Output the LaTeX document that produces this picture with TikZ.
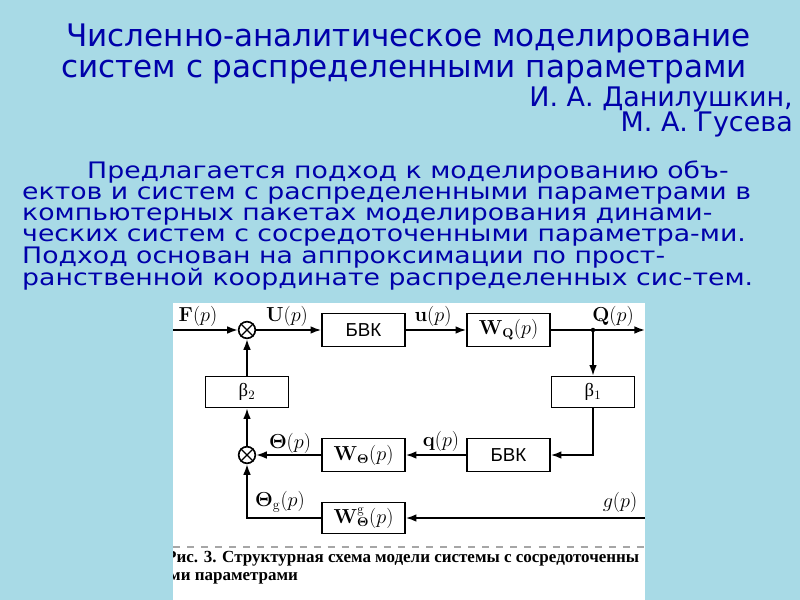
\documentclass[tikz,border=0pt]{standalone}
\usepackage[no-math]{fontspec}
\newfontfamily\slidefont{DejaVu Sans}
\newfontfamily\boxfont{Liberation Sans}
\newfontfamily\capfont{Liberation Serif}
\usetikzlibrary{arrows.meta,positioning}
\definecolor{drops}{RGB}{168,218,230}
\definecolor{ink}{RGB}{0,0,170}
\newcommand{\zeile}[1]{\scalebox{1}[0.85]{#1}}

\begin{document}
\begin{tikzpicture}[x=0.3mm,y=-0.3mm,
    titel/.style={text=ink,font=\slidefont\fontsize{26.5}{30}\selectfont,inner sep=0pt},
    autor/.style={text=ink,font=\slidefont\fontsize{23}{27}\selectfont,inner sep=0pt,anchor=base east},
    absatz/.style={anchor=base west,text=ink,font=\slidefont\fontsize{22.8}{26}\selectfont,inner sep=0pt},
    blok/.style={draw,line width=1.4pt,fill=white,minimum width=24.9mm,minimum height=10mm,inner sep=1pt,font=\fontsize{16}{18}\selectfont},
    summ/.style={draw,line width=1.4pt,circle,minimum size=5mm,inner sep=0pt},
    lbl/.style={font=\fontsize{16.5}{18}\selectfont,inner sep=1pt},
    pfeil/.style={line width=1.4pt,-{Latex[length=3.2mm,width=2.3mm]}},
    unterschrift/.style={anchor=base west,font=\capfont\bfseries\fontsize{14.5}{16}\selectfont,inner sep=0pt}]

% background
\fill[drops] (0,0) rectangle (800,600);
\useasboundingbox (0,0) rectangle (800,600);

% title and authors
\node[titel,anchor=base west] (t1) at (66,47) {Численно-аналитическое моделирование};
\node[titel,anchor=base west] (t2) at (61,78) {систем с распределенными параметрами};
\node[autor] (a1) at (793,107) {И. А. Данилушкин,};
\node[autor] (a2) at (793,132) {М. А. Гусева};

% text
\node[absatz] (p1) at (87,179) {\zeile{Предлагается подход к моделированию объ-}};
\node[absatz] (p2) at (22,200) {\zeile{ектов и систем с распределенными параметрами в}};
\node[absatz] (p3) at (22,221) {\zeile{компьютерных пакетах моделирования динами-}};
\node[absatz] (p4) at (22,242) {\zeile{ческих систем с сосредоточенными параметра-ми.}};
\node[absatz] (p5) at (22,264) {\zeile{Подход основан на аппроксимации по прост-}};
\node[absatz] (p6) at (22,285) {\zeile{ранственной координате распределенных сис-тем.}};

% figure
\fill[white] (173,303) rectangle (645,600);

\node[summ] (s1) at (247,330) {};
\draw[line width=1.2pt] (s1.north west) -- (s1.south east) (s1.north east) -- (s1.south west);
\node[blok] (bvk1) at (363.5,330) {\boxfont БВК};
\node[blok] (wq) at (508.5,330) {$\mathbf{W}_{\mathbf{Q}}(p)$};
\coordinate (vz) at (593,330);
\fill (vz) circle (1.9pt);
\coordinate (fin) at (173,330);
\coordinate (qout) at (645,330);
\node[blok,minimum height=9.3mm] (b1) at (593,392) {{\capfont β}$_1$};
\node[blok,minimum height=9.3mm] (b2) at (247,392) {{\capfont β}$_2$};
\node[summ] (s2) at (247,455) {};
\draw[line width=1.2pt] (s2.north west) -- (s2.south east) (s2.north east) -- (s2.south west);
\node[blok] (wt) at (363.5,455) {$\mathbf{W}_{\mathbf{\Theta}}(p)$};
\node[blok] (bvk2) at (508.5,455) {\boxfont БВК};
\node[blok,minimum height=9.3mm] (wg) at (363.5,518) {$\mathbf{W}^{\mathrm{g}}_{\mathbf{\Theta}}(p)$};
\coordinate (gin) at (645,518);

\draw[pfeil] (fin) -- (s1);
\draw[pfeil] (s1) -- (bvk1);
\draw[pfeil] (bvk1) -- (wq);
\draw[pfeil] (wq) -- (qout);
\draw[pfeil] (vz) -- (b1);
\draw[pfeil] (b1) |- (bvk2);
\draw[pfeil] (bvk2) -- (wt);
\draw[pfeil] (wt) -- (s2);
\draw[pfeil] (s2) -- (b2);
\draw[pfeil] (b2) -- (s1);
\draw[pfeil] (gin) -- (wg);
\draw[pfeil] (wg) -| (s2);

\node[lbl] (lF) at (198,316) {$\mathbf{F}(p)$};
\node[lbl] (lU) at (287,316) {$\mathbf{U}(p)$};
\node[lbl] (lu) at (433,316) {$\mathbf{u}(p)$};
\node[lbl] (lQ) at (613,316) {$\mathbf{Q}(p)$};
\node[lbl] (lT) at (290,443) {$\mathbf{\Theta}(p)$};
\node[lbl] (lq) at (441,441) {$\mathbf{q}(p)$};
\node[lbl] (lTg) at (280,502) {$\mathbf{\Theta}_{\mathrm{g}}(p)$};
\node[lbl] (lg) at (620,502) {$g(p)$};

\draw[gray!70,line width=1pt,dash pattern=on 6pt off 6pt] (173,547) -- (645,547);

% caption, cut at the edge of the figure
\begin{scope}
\clip (173,303) rectangle (645,600);
\node[unterschrift] (cap1) at (166,562) {Рис. 3. Структурная схема модели системы с сосредоточенны};
\node[unterschrift] (cap2) at (169,580) {ми параметрами};
\end{scope}
\end{tikzpicture}
\end{document}
